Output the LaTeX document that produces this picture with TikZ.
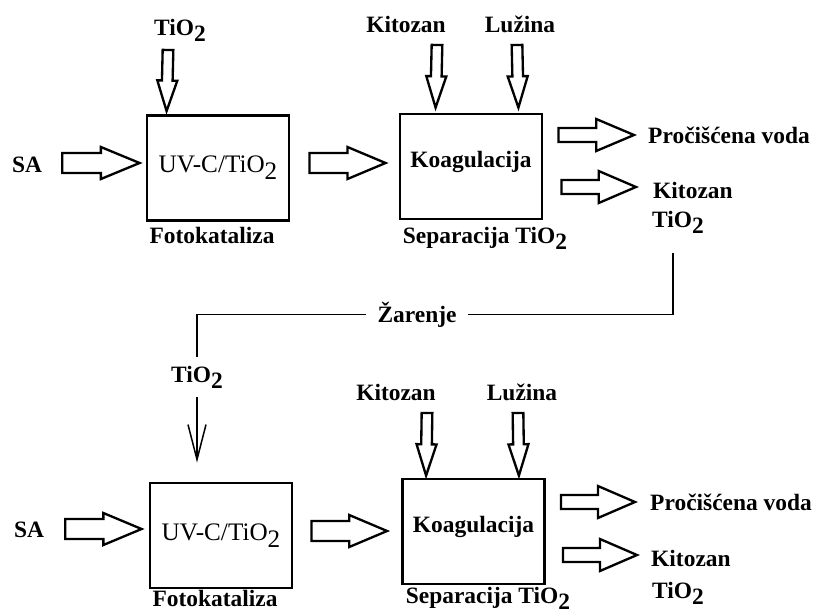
\documentclass[tikz,border=0pt]{standalone}
\usepackage{fontspec}
\setmainfont{Liberation Serif}
\usetikzlibrary{calc,arrows.meta}
\newcommand{\tio}{TiO\raisebox{-0.28em}{2}}
\tikzset{
  lbl/.style={font=\fontsize{20}{24}\selectfont\bfseries, anchor=base, inner sep=0pt},
  lblw/.style={lbl, anchor=base west},
  unit/.style={draw, line width=0.85mm, minimum width=42.6mm, minimum height=31.5mm, inner sep=0pt},
  uvtext/.style={font=\fontsize{21.5}{26}\selectfont},
  koagtext/.style={font=\fontsize{20}{24}\selectfont\bfseries, text depth=4mm},
  fat/.style 2 args={draw, line width=0.7mm, line join=miter, to path={
    let \p1=(\tikztostart), \p2=(\tikztotarget) in
    ($(\p1)!#1!90:(\p2)$) -- ($(\p1)!.5!(\p2)!#1!90:(\p2)$)
    -- ($(\p1)!.5!(\p2)!#2!90:(\p2)$) -- (\p2)
    -- ($(\p1)!.5!(\p2)!#2!-90:(\p2)$) -- ($(\p1)!.5!(\p2)!#1!-90:(\p2)$)
    -- ($(\p1)!#1!-90:(\p2)$) -- cycle}},
  fatin/.style={fat={3mm}{4.8mm}},
  fatout/.style={fat={2.1mm}{4.8mm}},
  fatdown/.style={fat={1.6mm}{3mm}},
  thinline/.style={line width=0.45mm}
}
\begin{document}
\begin{tikzpicture}[x=0.3mm,y=-0.3mm]
\useasboundingbox (0,0) rectangle (817,613);
\node[lbl] (tioA) at (180,35) {\tio};
\node[lbl] (sa1) at (27,172) {SA};
\node[unit,uvtext] (box1) at (218,168) {UV-C/\tio};
\node[lbl] (fk1) at (212,243) {Fotokataliza};
\node[lbl] (kz1) at (406,32) {Kitozan};
\node[lbl] (lz1) at (520,32) {Lužina};
\node[unit,koagtext] (box2) at (471,166.5) {Koagulacija};
\node[lbl] (sep1) at (485,243) {Separacija \tio};
\node[lblw] (pv1) at (648,143) {Pročišćena voda};
\node[lblw] (kz1o) at (653,198) {Kitozan};
\node[lblw] (tio1o) at (652,227) {\tio};
\node[lbl,inner xsep=3.3mm] (zar) at (417,322) {Žarenje};
\node[lbl,inner sep=2.5mm] (tioM) at (197,382) {\tio};
\node[lbl] (sa2) at (29,537) {SA};
\node[unit,uvtext] (box3) at (221,535.5) {UV-C/\tio};
\node[lbl] (fk2) at (215,606) {Fotokataliza};
\node[lbl] (kz2) at (396,400) {Kitozan};
\node[lbl] (lz2) at (522,400) {Lužina};
\node[unit,koagtext] (box4) at (473.5,531.5) {Koagulacija};
\node[lbl] (sep2) at (488,603) {Separacija \tio};
\node[lblw] (pv2) at (650,510) {Pročišćena voda};
\node[lblw] (kz2o) at (651,566) {Kitozan};
\node[lblw] (tio2o) at (652,598) {\tio};
\draw[fatdown] ($(tioA.base)+(-12,15)$) to ($(box1.north west)+(21,-3)$);
\draw[fatin] ($(sa1.base east)+(20,-9)$) to ($(box1.west)+(-6,-5)$);
\draw[fatin] ($(box1.east)+(19,-5)$) to ($(box2.west)+(-13,-3.5)$);
\draw[fatdown] ($(kz1.base)+(31,13)$) to ($(box2.north west)+(37,-5)$);
\draw[fatdown] ($(lz1.base)+(-3,13)$) to ($(box2.north east)+(-25,-5)$);
\draw[fatout] ($(box2.east)+(15,-31.5)$) to ($(pv1.base west)+(-14,-8)$);
\draw[fatout] ($(box2.east)+(18,20.5)$) to ($(kz1o.base west)+(-17,-11)$);
\draw[thinline] ($(tio1o.base west)+(21,26)$) |- (zar.east);
\draw[thinline] (zar.west) -| (tioM.north);
\draw[thinline,-{Straight Barb[length=10.5mm,width=5.4mm]}] (tioM.south) -- ($(box3.north)+(-24,-19)$);
\draw[fatin] ($(sa2.base east)+(21,-8)$) to ($(box3.west)+(-7,-6.5)$);
\draw[fatin] ($(box3.east)+(18,-4.5)$) to ($(box4.west)+(-14,-0.5)$);
\draw[fatdown] ($(kz2.base)+(31,13)$) to ($(box4.north west)+(25,-2)$);
\draw[fatdown] ($(lz2.base)+(-4,13)$) to ($(box4.north east)+(-27,-2)$);
\draw[fatout] ($(box4.east)+(15,-29.5)$) to ($(pv2.base west)+(-15,-8)$);
\draw[fatout] ($(box4.east)+(17,23.5)$) to ($(kz2o.base west)+(-14,-11)$);
\end{tikzpicture}
\end{document}
